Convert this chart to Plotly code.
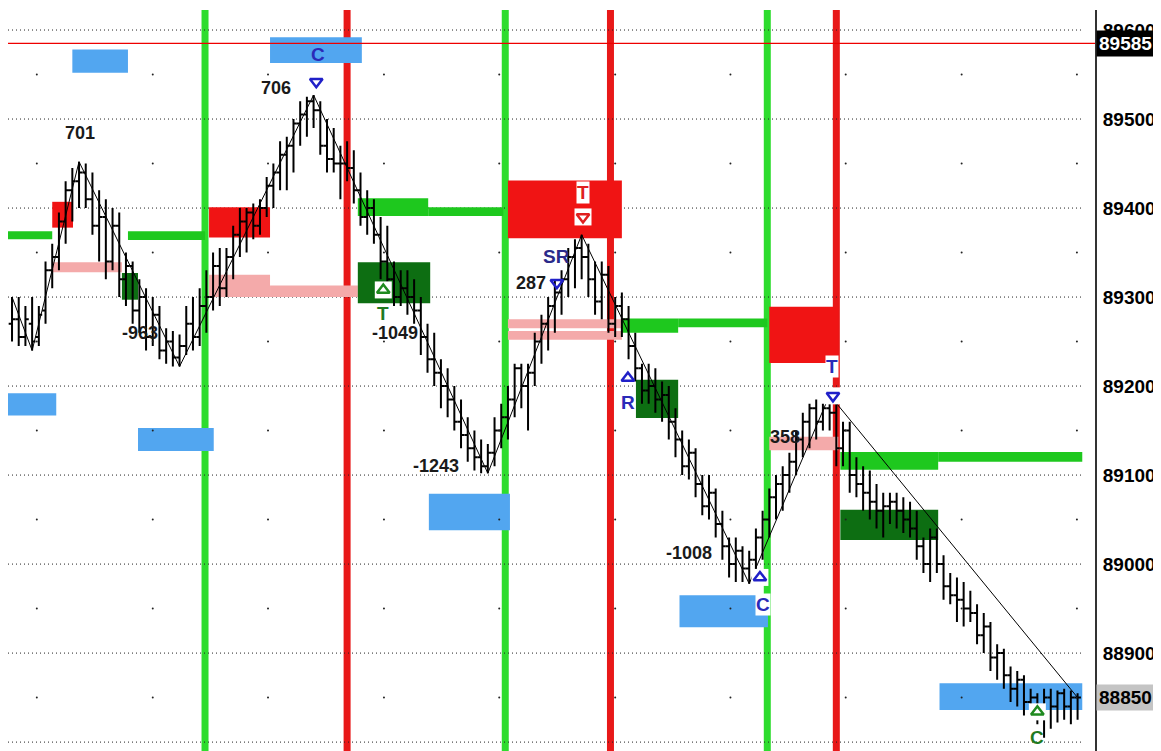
import plotly.graph_objects as go

# ---------------- data ----------------
bar_open = [89270, 89275, 89255, 89270, 89255, 89285, 89330, 89345, 89385, 89420, 89430,
            89440, 89410, 89380, 89390, 89340, 89380, 89320, 89335, 89285, 89300, 89255, 89280, 89240, 89250, 89232,
            89245, 89270, 89255, 89290, 89300, 89335, 89310, 89345, 89370, 89385, 89395, 89380, 89400, 89425, 89440, 89460, 89470, 89495, 89505, 89520,
            89510, 89470, 89455, 89450, 89450, 89445, 89420, 89390, 89400, 89370, 89340, 89320, 89300, 89310, 89300, 89285, 89255, 89230, 89215, 89200, 89185, 89160, 89145, 89130, 89120, 89110,
            89125, 89150, 89165, 89185, 89220, 89200, 89215, 89250, 89270, 89290, 89305, 89320, 89345, 89355,
            89345, 89320, 89295, 89325, 89270, 89290, 89275, 89245, 89220, 89195, 89200, 89185, 89190, 89160, 89140, 89110, 89125, 89090, 89065, 89080, 89045, 89020, 89000, 89015, 88995,
            89005, 89030, 89050, 89075, 89090, 89100, 89115, 89140, 89160, 89175, 89160, 89175,
            89170, 89130, 89150, 89100, 89090, 89080, 89070, 89060, 89065, 89070, 89060, 89050, 89040, 89020, 89000, 89030, 89000, 88975, 88965, 88960, 88950, 88945, 88920, 88930, 88895, 88900, 88875, 88860, 88870, 88845, 88850, 88835, 88850, 88840, 88855, 88840, 88850]
bar_high = [89300, 89300, 89290, 89300, 89290, 89340, 89360, 89395, 89430, 89445, 89452,
            89450, 89440, 89420, 89410, 89400, 89395, 89350, 89340, 89320, 89310, 89300, 89290, 89265, 89262, 89258,
            89290, 89300, 89310, 89330, 89350, 89355, 89355, 89380, 89400, 89400, 89405, 89410, 89435, 89450, 89475, 89480, 89500, 89520, 89525, 89527,
            89520, 89500, 89490, 89470, 89475, 89465, 89440, 89420, 89410, 89390, 89380, 89340, 89330, 89330, 89320, 89300, 89270, 89260, 89230, 89220, 89200, 89185, 89165, 89150, 89140, 89135,
            89165, 89180, 89200, 89225, 89225, 89225, 89260, 89280, 89300, 89320, 89330, 89355, 89365, 89370,
            89360, 89340, 89340, 89335, 89300, 89305, 89290, 89260, 89225, 89225, 89220, 89205, 89200, 89175, 89150, 89140, 89130, 89100, 89100, 89085, 89060, 89030, 89030, 89020, 89015,
            89040, 89060, 89085, 89100, 89110, 89125, 89150, 89170, 89180, 89185, 89180, 89190,
            89180, 89160, 89160, 89120, 89110, 89105, 89090, 89080, 89080, 89080, 89075, 89070, 89060, 89030, 89040, 89040, 89010, 88990, 88985, 88980, 88970, 88955, 88945, 88935, 88910, 88905, 88885, 88880, 88875, 88860, 88855, 88860, 88860, 88858, 88860, 88858, 88855]
bar_low = [89250, 89245, 89245, 89240, 89245, 89270, 89310, 89330, 89360, 89385, 89400,
           89400, 89370, 89340, 89320, 89330, 89300, 89290, 89270, 89260, 89240, 89245, 89230, 89225, 89222, 89222,
           89235, 89240, 89245, 89260, 89285, 89290, 89300, 89320, 89345, 89350, 89365, 89370, 89390, 89400, 89420, 89420, 89440, 89470, 89480, 89490,
           89460, 89440, 89440, 89410, 89430, 89405, 89380, 89370, 89360, 89320, 89310, 89290, 89290, 89280, 89270, 89235, 89215, 89200, 89175, 89165, 89150, 89130, 89115, 89105, 89102, 89102,
           89110, 89130, 89140, 89165, 89175, 89150, 89200, 89225, 89240, 89260, 89280, 89300, 89310, 89320,
           89300, 89280, 89275, 89260, 89255, 89255, 89230, 89205, 89180, 89180, 89170, 89160, 89140, 89120, 89100, 89095, 89075, 89055, 89050, 89030, 89005, 88985, 88980, 88980, 88978,
           88990, 89005, 89030, 89050, 89060, 89080, 89100, 89120, 89130, 89140, 89150, 89150,
           89110, 89110, 89080, 89075, 89060, 89050, 89040, 89030, 89045, 89040, 89035, 89030, 89005, 88990, 88980, 88990, 88960, 88955, 88935, 88930, 88935, 88910, 88900, 88880, 88870, 88860, 88845, 88840, 88830, 88825, 88820, 88805, 88815, 88822, 88825, 88820, 88825]
bar_close = [89275, 89255, 89275, 89250, 89280, 89330, 89345, 89385, 89420, 89430, 89440,
             89410, 89380, 89390, 89340, 89380, 89320, 89335, 89285, 89300, 89255, 89280, 89240, 89250, 89232, 89245,
             89270, 89255, 89290, 89300, 89335, 89310, 89345, 89370, 89385, 89395, 89380, 89400, 89425, 89440, 89460, 89470, 89495, 89505, 89520, 89510,
             89470, 89455, 89450, 89450, 89445, 89420, 89390, 89400, 89370, 89340, 89320, 89300, 89310, 89300, 89285, 89255, 89230, 89215, 89200, 89185, 89160, 89145, 89130, 89120, 89110, 89125,
             89150, 89165, 89185, 89220, 89200, 89215, 89250, 89270, 89290, 89305, 89320, 89345, 89355, 89345,
             89320, 89295, 89325, 89270, 89290, 89275, 89245, 89220, 89195, 89200, 89185, 89190, 89160, 89140, 89110, 89125, 89090, 89065, 89080, 89045, 89020, 89000, 89015, 88995, 89005,
             89030, 89050, 89075, 89090, 89100, 89115, 89140, 89160, 89175, 89160, 89175, 89170,
             89130, 89150, 89100, 89090, 89080, 89070, 89060, 89065, 89070, 89060, 89050, 89040, 89020, 89000, 89030, 89000, 88975, 88965, 88960, 88950, 88945, 88920, 88930, 88895, 88900, 88875, 88860, 88870, 88845, 88850, 88835, 88850, 88840, 88855, 88840, 88850, 88850]
bar_index = list(range(len(bar_close)))

zigzag_bar = [0, 3, 10, 25, 45, 71, 85, 110, 122, 159]
zigzag_price = [89300, 89240, 89452, 89222, 89527, 89102, 89370, 88978, 89190, 88850]

swing_text = ["701", "-963", "706", "-1049", "-1243", "287", "-1008", "358"]
swing_text_bar = [10.1, 19.1, 39.4, 57.2, 63.3, 77.5, 101.0, 115.4]
swing_text_price = [89484, 89260, 89535, 89260, 89110, 89316, 89013, 89143]

# zones: (start bar, end bar, low price, high price)
blue_zones = [(9.0, 17.3, 89552, 89578), (38.5, 52.2, 89563, 89592), (-0.6, 6.6, 89167, 89192),
              (18.8, 30.1, 89127, 89153), (62.2, 74.3, 89038, 89079), (99.6, 112.8, 88929, 88965),
              (138.4, 159.7, 88836, 88866)]
red_zones = [(6.0, 9.1, 89378, 89407), (29.4, 38.5, 89367, 89401), (74.0, 91.0, 89366, 89431),
             (113.0, 123.3, 89226, 89289)]
dark_green_zones = [(16.4, 18.8, 89297, 89327), (51.6, 62.4, 89293, 89339), (93.1, 99.4, 89164, 89207),
                    (123.6, 138.2, 89027, 89061)]
green_bands = [(-0.6, 6.0, 89365, 89374), (17.3, 28.8, 89364, 89374), (51.6, 62.1, 89391, 89411),
               (62.1, 73.3, 89391, 89401), (91.0, 99.4, 89260, 89276), (99.4, 112.7, 89266, 89276),
               (123.6, 138.2, 89106, 89126), (138.2, 159.7, 89115, 89126)]
pink_bands = [(6.0, 16.4, 89328, 89339), (29.4, 38.5, 89300, 89325), (38.5, 51.6, 89300, 89313),
              (74.0, 91.0, 89265, 89275), (74.0, 91.0, 89252, 89262), (113.0, 123.3, 89128, 89143)]

green_verticals = [28.8, 73.6, 112.7]
red_verticals = [50.0, 89.3, 123.0]

last_price_line = 89585
current_price = 88850

y_ticks = [88800, 88900, 89000, 89100, 89200, 89300, 89400, 89500, 89600]
half_levels = [88850, 88950, 89050, 89150, 89250, 89350, 89450, 89550]
dot_columns = [3.7, 21.0, 38.2, 55.5, 72.7, 90.0, 107.2, 124.4, 141.7, 158.9]

# signal markers
down_tri_bar = [45.4, 81.3, 122.5]
down_tri_price = [89542, 89316, 89189]
up_tri_blue_bar = [91.9, 111.6]
up_tri_blue_price = [89209, 88985]
up_tri_green_bar = [55.4, 153.0]
up_tri_green_price = [89308, 88834]
red_tri_bar = [85.2]
red_tri_price = [89390]

letters = [("C", 45.7, 89572, "#2a2ab8", None), ("SR", 81.3, 89346, "#2a2a8a", None),
           ("R", 91.9, 89181, "#2a2ab8", None), ("C", 112.0, 88955, "#2a2ab8", "white"),
           ("T", 122.4, 89222, "#2a2ab8", "white"), ("T", 55.4, 89281, "#1f7a1f", None),
           ("C", 153.0, 88805, "#1f7a1f", None), ("T", 85.2, 89418, "#e02020", "white")]

# ---------------- figure ----------------
X0, X1 = -0.6, 161.6
Y0, Y1 = 88790, 89622.5
GRID_END = 159.7
FONT = "Liberation Sans"

fig = go.Figure()

shapes = []
for t in y_ticks:
    shapes.append(dict(type="line", xref="x", yref="y", x0=X0, x1=GRID_END, y0=t, y1=t,
                       line=dict(color="#222222", width=1, dash="1px,3px"), layer="below"))

def add_zones(zones, color):
    for x0, x1, lo, hi in zones:
        shapes.append(dict(type="rect", xref="x", yref="y", x0=x0, x1=x1, y0=lo, y1=hi,
                           fillcolor=color, line=dict(width=0), layer="below"))

add_zones(pink_bands, "#f4aaaa")
add_zones(green_bands, "#1ec81e")
add_zones(dark_green_zones, "#0d6e12")
add_zones(red_zones, "#f01414")
add_zones(blue_zones, "#52a6f0")

for xv in green_verticals:
    shapes.append(dict(type="line", xref="x", yref="paper", x0=xv, x1=xv, y0=0, y1=1,
                       line=dict(color="#2ddc2d", width=7), layer="below"))
for xv in red_verticals:
    shapes.append(dict(type="line", xref="x", yref="paper", x0=xv, x1=xv, y0=0, y1=1,
                       line=dict(color="#e81818", width=7), layer="below"))

shapes.append(dict(type="line", xref="paper", yref="y", x0=0, x1=1, y0=last_price_line, y1=last_price_line,
                   line=dict(color="#ee0000", width=1.3), layer="above"))

# sparse grid dots
dx, dy = [], []
for yv in half_levels:
    for xv in dot_columns:
        dx.append(xv)
        dy.append(yv)
fig.add_trace(go.Scatter(x=dx, y=dy, mode="markers", marker=dict(size=2, color="#222222"),
                         hoverinfo="skip", showlegend=False))

fig.add_trace(go.Ohlc(x=bar_index, open=bar_open, high=bar_high, low=bar_low, close=bar_close,
                      increasing=dict(line=dict(color="black", width=2)),
                      decreasing=dict(line=dict(color="black", width=2)),
                      tickwidth=0.5, showlegend=False, hoverinfo="skip"))

fig.add_trace(go.Scatter(x=zigzag_bar, y=zigzag_price, mode="lines",
                         line=dict(color="black", width=1), hoverinfo="skip", showlegend=False))

# white patches behind some markers
patch_bar = [up_tri_green_bar[0], up_tri_green_bar[1], up_tri_blue_bar[1], down_tri_bar[2], red_tri_bar[0]]
patch_price = [up_tri_green_price[0], up_tri_green_price[1], up_tri_blue_price[1], down_tri_price[2], red_tri_price[0]]
fig.add_trace(go.Scatter(x=patch_bar, y=patch_price, mode="markers",
                         marker=dict(symbol="square", size=17, color="white"),
                         hoverinfo="skip", showlegend=False))

def tri(xs, ys, symbol, color):
    fig.add_trace(go.Scatter(x=xs, y=ys, mode="markers",
                             marker=dict(symbol=symbol, size=11, color=color, line=dict(color=color, width=2.5)),
                             hoverinfo="skip", showlegend=False))

tri(down_tri_bar, down_tri_price, "triangle-down-open", "#2020c8")
tri(up_tri_blue_bar, up_tri_blue_price, "triangle-up-open", "#2020c8")
tri(up_tri_green_bar, up_tri_green_price, "triangle-up-open", "#1f8a1f")
tri(red_tri_bar, red_tri_price, "triangle-down-open", "#e02020")

annotations = []
for t, xb, yp in zip(swing_text, swing_text_bar, swing_text_price):
    annotations.append(dict(x=xb, y=yp, xref="x", yref="y", text="<b>" + t + "</b>", showarrow=False,
                            font=dict(family=FONT, size=18, color="#1a1a1a")))
for t, xb, yp, col, bg in letters:
    a = dict(x=xb, y=yp, xref="x", yref="y", text="<b>" + t + "</b>", showarrow=False,
             font=dict(family=FONT, size=19, color=col), borderpad=0)
    if bg:
        a["bgcolor"] = bg
    annotations.append(a)

annotations.append(dict(x=1, y=last_price_line, xref="paper", yref="y", xanchor="left", xshift=1,
                        text="<b>" + str(last_price_line) + "</b>", showarrow=False, bgcolor="black", borderpad=2,
                        font=dict(family=FONT, size=19, color="white")))
annotations.append(dict(x=1, y=current_price, xref="paper", yref="y", xanchor="left", xshift=1,
                        text="<b>" + str(current_price) + "</b>", showarrow=False, bgcolor="#c4c4c4", borderpad=2,
                        font=dict(family=FONT, size=19, color="black")))

fig.update_layout(
    width=1153, height=743,
    margin=dict(l=0, r=66, t=2, b=0, pad=0),
    paper_bgcolor="white", plot_bgcolor="white",
    shapes=shapes, annotations=annotations, showlegend=False,
    xaxis=dict(range=[X0, X1], visible=False, rangeslider=dict(visible=False), fixedrange=True),
    yaxis=dict(range=[Y0, Y1], side="right", tickvals=y_ticks, ticktext=["<b>%d</b>" % v for v in y_ticks],
               showgrid=False, zeroline=False, showline=True, linecolor="#333333", linewidth=2,
               ticks="", ticklabelstandoff=2,
               tickfont=dict(family=FONT, size=19, color="black"), fixedrange=True),
)

fig.write_html("out.html")
